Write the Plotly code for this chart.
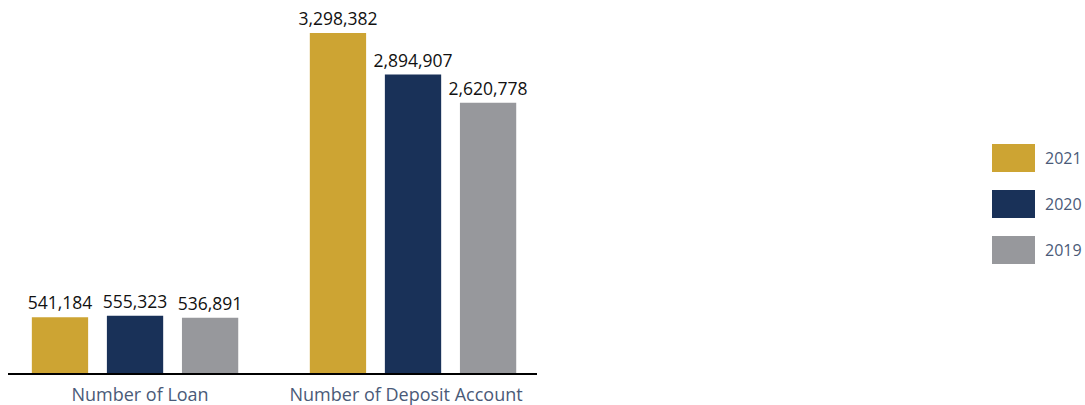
import plotly.graph_objects as go

categories = ["Number of Loan", "Number of Deposit Account"]
years = ["2021", "2020", "2019"]
values_2021 = [541184, 3298382]
values_2020 = [555323, 2894907]
values_2019 = [536891, 2620778]
colors = ["#CDA433", "#193158", "#97989C"]

series = [values_2021, values_2020, values_2019]
x_pos = list(range(len(categories)))

fig = go.Figure()
for year, vals, col in zip(years, series, colors):
    fig.add_trace(go.Bar(
        x=x_pos, y=vals, name=year,
        marker=dict(color=col, line=dict(width=0)),
        text=[f"{v:,}" for v in vals], textposition="outside",
        constraintext="none",
        textfont=dict(family="Open Sans", size=17.5, color="#111111"),
        cliponaxis=False, showlegend=False,
    ))

L, T, B = 8, 10, 32
W, H = 1085, 405
plot_w = 537 - L
plot_h = 373 - T

fig.update_layout(
    width=W, height=H,
    margin=dict(l=L, r=W - 537, t=T, b=B, autoexpand=False),
    paper_bgcolor="white", plot_bgcolor="white",
    barmode="group", bargap=0.19, bargroupgap=0.25,
    xaxis=dict(range=[-0.457, 1.446], showgrid=False, showline=True, zeroline=False,
               linecolor="black", linewidth=2, ticks="", ticklabelstandoff=4,
               automargin=False,
               tickmode="array", tickvals=[0.018, 0.975], ticktext=categories,
               tickfont=dict(family="Open Sans", size=18, color="#4a5a78")),
    yaxis=dict(range=[0, 3298382 * plot_h / 340], visible=False, automargin=False),
)

# Legend drawn as swatches beside the plot
for i, (year, col) in enumerate(zip(years, colors)):
    top = 144 + i * 46
    fig.add_shape(type="rect", xref="paper", yref="paper",
                  x0=(992 - L) / plot_w, x1=(1035 - L) / plot_w,
                  y0=(373 - top - 28) / plot_h, y1=(373 - top) / plot_h,
                  fillcolor=col, line=dict(width=0))
    fig.add_annotation(xref="paper", yref="paper",
                       x=(1043 - L) / plot_w, y=(373 - top - 14) / plot_h,
                       text=year, showarrow=False, xanchor="left", yanchor="middle",
                       font=dict(family="Open Sans", size=16, color="#4a5a78"))

fig.write_html("out.html")
